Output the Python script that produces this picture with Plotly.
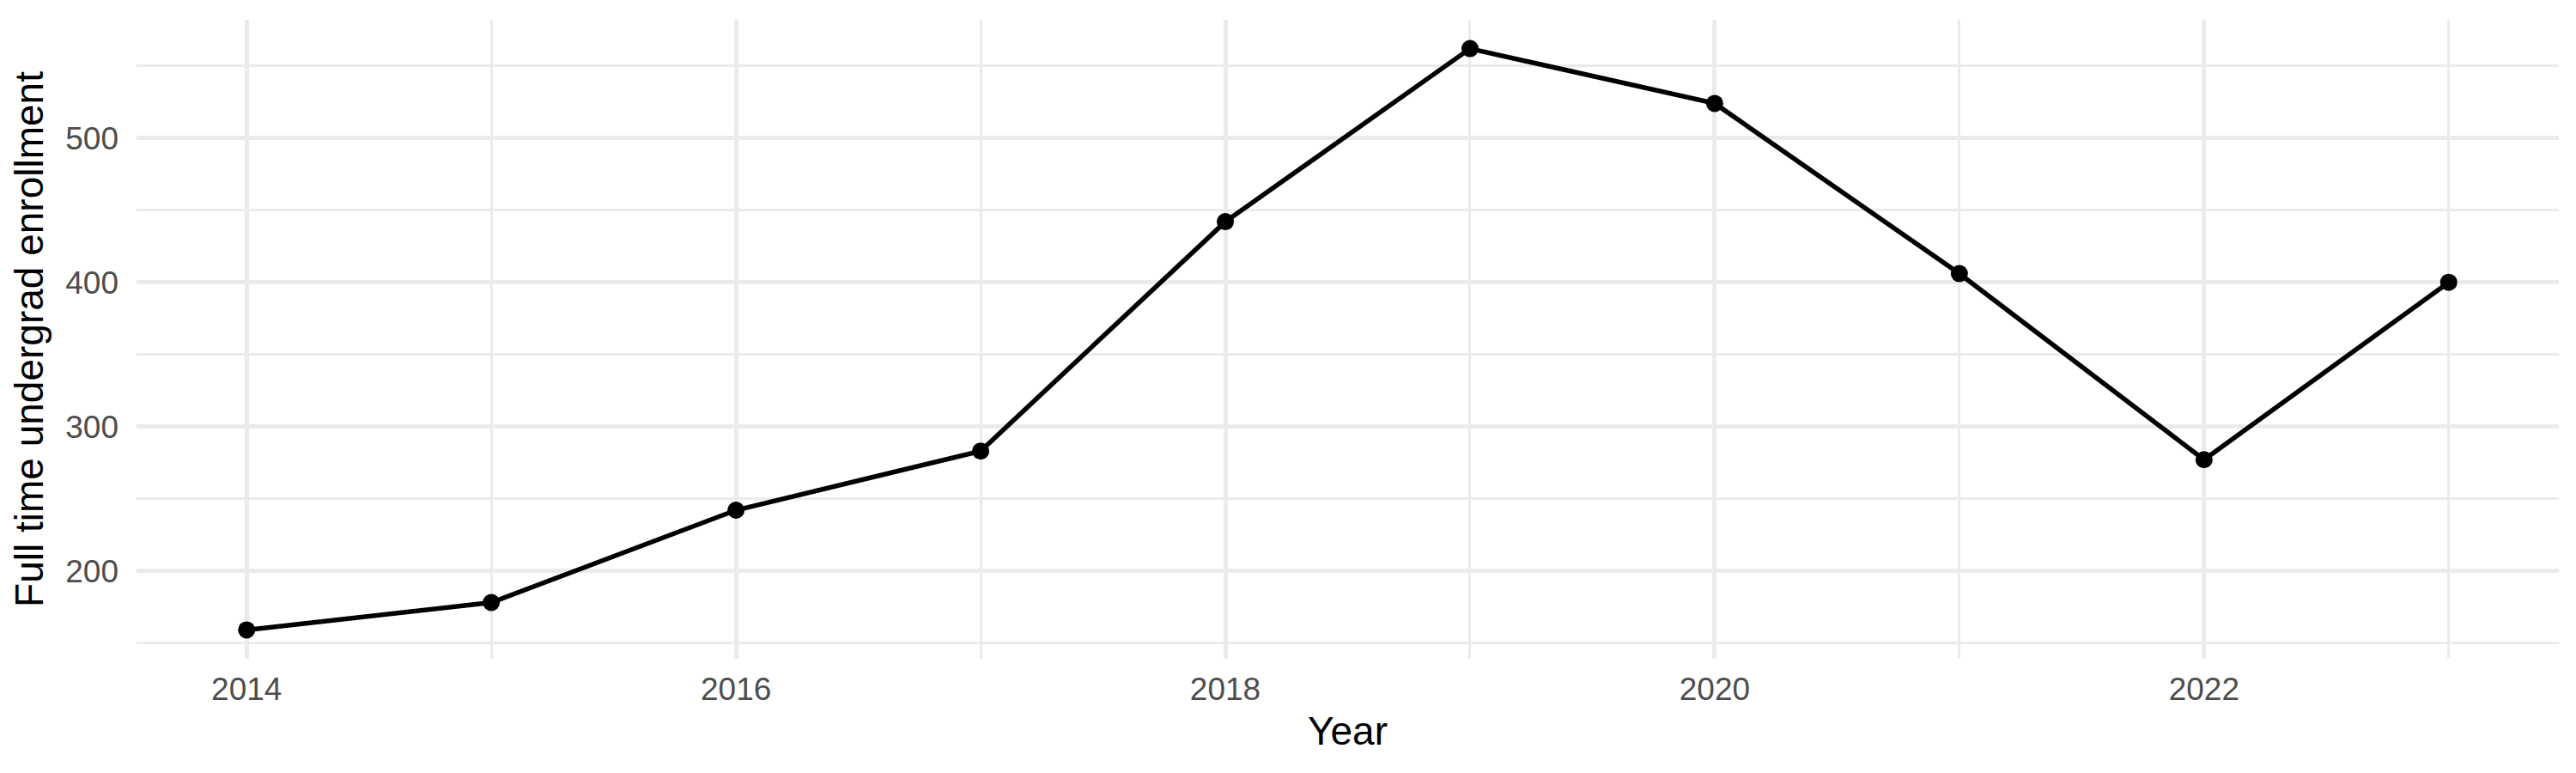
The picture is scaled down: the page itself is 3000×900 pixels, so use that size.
import plotly.graph_objects as go

# enrollment by year
years = [2014, 2015, 2016, 2017, 2018, 2019, 2020, 2021, 2022, 2023]
enrollment = [159, 178, 242, 283, 442, 562, 524, 406, 277, 400]

x_ticks = [2014, 2016, 2018, 2020, 2022]
y_ticks = [200, 300, 400, 500]

fig = go.Figure()

fig.add_trace(
    go.Scatter(x=years,
               y=enrollment,
               mode="lines+markers",
               line=dict(color="black", width=5.5),
               marker=dict(color="black", size=20),
               showlegend=False)
)

font_name = "Liberation Sans, Arial, sans-serif"

# the page body adds 8px of offset, so margins are trimmed to match
fig.update_layout(
    width=3000,
    height=900,
    margin=dict(l=151, r=28, t=15, b=141, autoexpand=False),
    paper_bgcolor="white",
    plot_bgcolor="white",
    font=dict(family=font_name, color="black"),
    xaxis=dict(
        title=dict(text="Year", font=dict(size=46, color="black"), standoff=12),
        range=[2013.55, 2023.45],
        tickvals=x_ticks,
        tickfont=dict(size=37, color="#4D4D4D"),
        ticks="",
        ticklabelstandoff=10,
        automargin=False,
        showgrid=True,
        gridcolor="#EBEBEB",
        gridwidth=5,
        minor=dict(dtick=1, tick0=2013, showgrid=True, gridcolor="#EBEBEB", gridwidth=2.5),
        zeroline=False,
        showline=False,
    ),
    yaxis=dict(
        title=dict(text="Full time undergrad enrollment", font=dict(size=46, color="black"), standoff=12),
        range=[139, 582],
        tickvals=y_ticks,
        tickfont=dict(size=37, color="#4D4D4D"),
        ticks="",
        ticklabelstandoff=20,
        automargin=False,
        showgrid=True,
        gridcolor="#EBEBEB",
        gridwidth=5,
        minor=dict(dtick=50, tick0=150, showgrid=True, gridcolor="#EBEBEB", gridwidth=2.5),
        zeroline=False,
        showline=False,
    ),
)

fig.write_html("out.html")
